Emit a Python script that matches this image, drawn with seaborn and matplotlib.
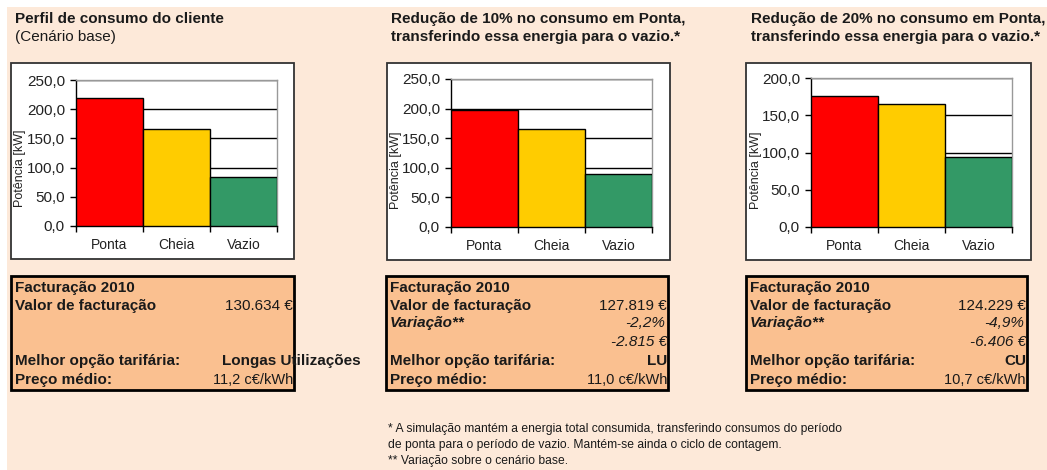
import numpy as np
import pandas as pd
import matplotlib
matplotlib.use('Agg')
import matplotlib.pyplot as plt
import seaborn as sns
from matplotlib.patches import Rectangle
from matplotlib.ticker import FuncFormatter, FixedLocator

sns.set_style('white')
plt.rcParams['font.family'] = ['Liberation Sans', 'DejaVu Sans']

# dados (kW por período)
periodos = ['Ponta', 'Cheia', 'Vazio']
base = [219.5, 165.5, 84.4]
red10 = [197.6, 165.5, 89.5]
red20 = [175.6, 165.0, 94.3]
cores = {'Ponta': '#FF0000', 'Cheia': '#FFCC00', 'Vazio': '#339966'}

titulos = [('Perfil de consumo do cliente', '(Cenário base)'),
           ('Redução de 10% no consumo em Ponta,', 'transferindo essa energia para o vazio.*'),
           ('Redução de 20% no consumo em Ponta,', 'transferindo essa energia para o vazio.*')]
ymax = [250, 250, 200]

facturacao = ['130.634 €', '127.819 €', '124.229 €']
variacao_pct = [None, '-2,2%', '-4,9%']
variacao_eur = [None, '-2.815 €', '-6.406 €']
opcao = ['Longas Utilizações', 'LU', 'CU']
preco = ['11,2 c€/kWh', '11,0 c€/kWh', '10,7 c€/kWh']

nota = ['* A simulação mantém a energia total consumida, transferindo consumos do período',
        'de ponta para o período de vazio. Mantém-se ainda o ciclo de contagem.',
        '** Variação sobre o cenário base.']

W, H = 1047, 470
fig = plt.figure(figsize=(W / 100, H / 100), dpi=100)
fig.patch.set_facecolor('white')


def fx(x):
    return x / W


def fy(y):
    return 1 - y / H


def caixa(x0, y0, x1, y1, **kw):
    fig.patches.append(Rectangle((fx(x0), fy(y1)), fx(x1) - fx(x0), fy(y0) - fy(y1),
                                 transform=fig.transFigure, figure=fig, **kw))


# fundo
caixa(7, 7, W + 2, H + 2, facecolor='#FDE9D9', edgecolor='none', zorder=-3)

chart_box = [(11, 63, 294, 259), (387, 63, 670, 260), (746, 63, 1031, 260)]
plot_area = [(76, 80, 277, 226), (451, 79, 652, 227), (811, 78, 1012, 227)]
fact_box = [(11, 276, 294, 390), (386, 276, 668, 390), (746, 276, 1027, 390)]
title_x = [15, 391, 751]
ylab_pos = [(20, 168), (396, 170), (756, 170)]

fmt = FuncFormatter(lambda v, p: f'{v:.1f}'.replace('.', ','))

for i, vals in enumerate([base, red10, red20]):
    x0, y0, x1, y1 = chart_box[i]
    caixa(x0, y0, x1, y1, facecolor='white', edgecolor='#333333', linewidth=1.3, zorder=-2)

    px0, py0, px1, py1 = plot_area[i]
    ax = fig.add_axes([fx(px0), fy(py1), fx(px1) - fx(px0), fy(py0) - fy(py1)])
    df = pd.DataFrame({'periodo': periodos, 'potencia': vals})
    sns.barplot(data=df, x='periodo', y='potencia', hue='periodo', palette=cores,
                saturation=1, width=1, edgecolor='black', linewidth=1, errorbar=None,
                legend=False, ax=ax, zorder=3)
    ax.set_xlim(-0.5, 2.5)
    ax.set_ylim(0, ymax[i])
    ax.set_yticks(np.arange(0, ymax[i] + 1, 50))
    ax.yaxis.set_major_formatter(fmt)
    ax.set_xlabel('')
    ax.set_ylabel('')
    ax.set_axisbelow(True)
    ax.grid(axis='y', color='black', linewidth=1)
    ax.grid(axis='x', visible=False)
    for s in ['top', 'right']:
        ax.spines[s].set_color('#999999')
        ax.spines[s].set_linewidth(1)
    for s in ['left', 'bottom']:
        ax.spines[s].set_color('black')
        ax.spines[s].set_linewidth(1)
    ax.xaxis.set_minor_locator(FixedLocator([-0.5, 0.5, 1.5, 2.5]))
    ax.tick_params(axis='x', which='major', length=0, pad=9, labelsize=10, colors='#222222')
    ax.tick_params(axis='x', which='minor', length=4, width=1, color='black', direction='out', bottom=True)
    ax.tick_params(axis='y', length=4, width=1, color='black', direction='out', left=True,
                   pad=4, labelsize=11, labelcolor='#222222')

    fig.text(fx(ylab_pos[i][0]), fy(ylab_pos[i][1]), 'Potência [kW]', rotation=90,
             ha='center', va='center', fontsize=9, color='#222222')

    # títulos
    fig.text(fx(title_x[i]), fy(23), titulos[i][0], fontsize=11, fontweight='bold',
             color='#1a1a1a', va='baseline')
    fig.text(fx(title_x[i]), fy(41), titulos[i][1], fontsize=11,
             fontweight='normal' if i == 0 else 'bold', color='#1a1a1a', va='baseline')

    # caixa de facturação
    bx0, by0, bx1, by1 = fact_box[i]
    caixa(bx0, by0, bx1, by1, facecolor='#FAC090', edgecolor='black', linewidth=2, zorder=-1)
    lx, rx = bx0 + 4, bx1 - 1
    kw = dict(color='#1a1a1a', va='baseline', zorder=5)
    fig.text(fx(lx), fy(292), 'Facturação 2010', fontsize=11, fontweight='bold', **kw)
    fig.text(fx(lx), fy(310), 'Valor de facturação', fontsize=11, fontweight='bold', **kw)
    fig.text(fx(rx), fy(310), facturacao[i], fontsize=11, ha='right', **kw)
    if variacao_pct[i] is not None:
        fig.text(fx(lx), fy(327), 'Variação**', fontsize=11, fontweight='bold', style='italic', **kw)
        fig.text(fx(rx - 2), fy(327), variacao_pct[i], fontsize=11, style='italic', ha='right', **kw)
        fig.text(fx(rx), fy(346), variacao_eur[i], fontsize=11, style='italic', ha='right', **kw)
    fig.text(fx(lx), fy(365), 'Melhor opção tarifária:', fontsize=11, fontweight='bold', **kw)
    if i == 0:
        fig.text(fx(222), fy(365), opcao[i], fontsize=11, fontweight='bold', **kw)
    else:
        fig.text(fx(rx), fy(365), opcao[i], fontsize=11, fontweight='bold', ha='right', **kw)
    fig.text(fx(lx), fy(384), 'Preço médio:', fontsize=11, fontweight='bold', **kw)
    fig.text(fx(rx), fy(384), preco[i], fontsize=10.5, ha='right', **kw)

for k, linha in enumerate(nota):
    fig.text(fx(388), fy(432 + 16 * k), linha, fontsize=8.7,
             color='#1a1a1a', va='baseline')

fig.savefig('out.png', dpi=100)
